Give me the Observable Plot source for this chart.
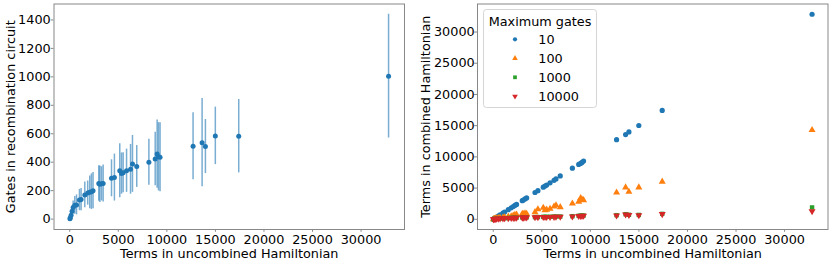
<!DOCTYPE html>
<html><head><meta charset="utf-8">
<script src="https://cdn.jsdelivr.net/npm/d3@7"></script>
<script src="https://cdn.jsdelivr.net/npm/@observablehq/plot@0.6"></script>
<style>
body{margin:0;background:#fff;}
#wrap{position:relative;width:831px;height:263px;display:flex;font-family:"DejaVu Sans",sans-serif;}
#legend{position:absolute;left:0;top:0;pointer-events:none;}
</style></head><body><div id="wrap"></div>
<script>
// ---- data ----
const terms = [20, 60, 140, 240, 350, 520, 700, 1000, 1170, 1550, 1850, 2060, 2230, 2400, 2990, 3100, 3270, 3440, 4300, 4600, 5150, 5330, 5500, 5850, 6260, 6460, 6900, 8150, 8800, 9000, 9140, 9300, 12700, 13630, 13970, 14990, 17400, 32830];
const gates = [3, 10, 27, 55, 82, 97, 100, 134, 137, 170, 183, 188, 193, 200, 250, 245, 248, 250, 287, 292, 340, 320, 326, 340, 350, 388, 370, 400, 423, 457, 438, 435, 512, 537, 510, 585, 583, 1005];
const gateErr = [4, 10, 22, 35, 45, 62, 70, 75, 78, 90, 85, 115, 125, 128, 125, 128, 120, 130, 130, 165, 190, 145, 140, 152, 175, 200, 147, 162, 188, 240, 240, 242, 235, 310, 190, 202, 258, 435];
const combined10 = [20, 58, 136, 235, 345, 515, 695, 990, 1160, 1540, 1840, 2050, 2220, 2390, 2980, 3090, 3260, 3430, 4290, 4590, 5140, 5320, 5490, 5840, 6250, 6470, 6950, 8190, 8790, 8950, 9110, 9320, 12760, 13570, 14000, 15030, 17450, 32850];
const combined100 = [15, 40, 80, 120, 160, 200, 240, 300, 330, 430, 500, 600, 720, 760, 900, 850, 960, 900, 1150, 1600, 1850, 1450, 1550, 1700, 2050, 2250, 1950, 2520, 2800, 3400, 3170, 3070, 4300, 5110, 4420, 5110, 6030, 14300];
const combined1000 = [10, 30, 55, 80, 100, 120, 140, 170, 180, 210, 230, 250, 260, 270, 300, 300, 310, 320, 350, 360, 390, 390, 400, 410, 430, 440, 450, 500, 560, 580, 590, 600, 660, 820, 720, 700, 870, 1900];
const combined10000 = [8, 25, 45, 70, 90, 110, 125, 150, 160, 190, 210, 225, 235, 245, 275, 275, 285, 295, 320, 330, 360, 360, 365, 380, 395, 405, 415, 460, 520, 540, 550, 560, 620, 780, 680, 660, 830, 1300];
const maxGates = ["10", "100", "1000", "10000"];
const xTicks = [0, 5000, 10000, 15000, 20000, 25000, 30000];
const gateTicks = [0, 200, 400, 600, 800, 1000, 1200, 1400];
const combinedTicks = [0, 5000, 10000, 15000, 20000, 25000, 30000];
const colors = ["#1f77b4", "#ff7f0e", "#2ca02c", "#d62728"];
const xLabel = "Terms in uncombined Hamiltonian";
const leftYLabel = "Gates in recombination circuit";
const rightYLabel = "Terms in combined Hamiltonian";
const legendTitle = "Maximum gates";

// ---- helpers ----
const sqrt3 = Math.sqrt(3);
const triangleDown = {
  draw(ctx, size) {
    const y = -Math.sqrt(size / (sqrt3 * 3));
    ctx.moveTo(0, -y * 2);
    ctx.lineTo(-sqrt3 * y, y);
    ctx.lineTo(sqrt3 * y, y);
    ctx.closePath();
  }
};
const symbols = [d3.symbolCircle, d3.symbolTriangle, d3.symbolSquare, triangleDown];
const markerR = [2.6, 2.6, 2.5, 2.6];
const pad = ([a, b]) => { const p = 0.05 * (b - a); return [a - p, b + p]; };

const leftData = terms.map((x, i) => ({x, y: gates[i], lo: gates[i] - gateErr[i], hi: gates[i] + gateErr[i]}));
const series = [combined10, combined100, combined1000, combined10000];
const xDomain = pad(d3.extent(terms));
const yLeftDomain = pad([d3.min(leftData, d => d.lo), d3.max(leftData, d => d.hi)]);
const yRightDomain = pad([d3.min(series.flat()), d3.max(series.flat())]);

const FS = 12.8;
const fmt = d3.format("d");
const font = {fontFamily: "DejaVu Sans", fontSize: FS + "px", color: "#000", background: "#fff", overflow: "visible"};
const axisCommon = {tickSize: 2.8, tickFormat: fmt, stroke: "#888", fill: "#000", fontSize: FS, labelAnchor: "center", labelArrow: false};

const left = Plot.plot({
  width: 415, height: 263,
  marginLeft: 53.5, marginRight: 11, marginTop: 3.5, marginBottom: 34,
  style: font,
  x: {domain: xDomain},
  y: {domain: yLeftDomain},
  marks: [
    Plot.axisX({...axisCommon, tickPadding: 2.8, ticks: xTicks, label: xLabel, labelOffset: 28.5}),
    Plot.axisY({...axisCommon, tickPadding: 0.5, ticks: gateTicks, label: leftYLabel, labelOffset: 48}),
    Plot.ruleX(leftData, {x: "x", y1: "lo", y2: "hi", stroke: colors[0], strokeOpacity: 0.6, strokeWidth: 1.5}),
    Plot.dot(leftData, {x: "x", y: "y", r: 2.5, fill: colors[0]}),
    Plot.frame({stroke: "#888"})
  ]
});

const rightMarks = series.map((vals, s) =>
  Plot.dot(terms.map((x, i) => ({x, y: vals[i]})), {x: "x", y: "y", r: markerR[s], fill: colors[s], symbol: symbols[s]})
);
const right = Plot.plot({
  width: 416, height: 263,
  marginLeft: 62, marginRight: 3.5, marginTop: 3.5, marginBottom: 34,
  style: font,
  x: {domain: xDomain},
  y: {domain: yRightDomain},
  marks: [
    Plot.axisX({...axisCommon, tickPadding: 2.8, ticks: xTicks, label: xLabel, labelOffset: 28.5}),
    Plot.axisY({...axisCommon, tickPadding: 0, ticks: combinedTicks, label: rightYLabel, labelOffset: 56.5}),
    ...rightMarks,
    Plot.frame({stroke: "#888"})
  ]
});

const wrap = document.getElementById("wrap");
wrap.appendChild(left);
wrap.appendChild(right);

// ---- legend (inside right axes, upper left) ----
const svg = d3.select(wrap).append("svg").attr("id", "legend").attr("width", 831).attr("height", 263)
  .style("font-family", "DejaVu Sans").style("font-size", FS + "px");
const g = svg.append("g").attr("transform", "translate(483.5,9.5)");
g.append("rect").attr("width", 113).attr("height", 98).attr("rx", 3)
  .attr("fill", "rgba(255,255,255,0.8)").attr("stroke", "#d5d5d5");
g.append("text").attr("x", 56.5).attr("y", 16.4).attr("text-anchor", "middle").text(legendTitle);
maxGates.forEach((lab, i) => {
  const cy = 29.8 + i * 19;
  const size = Math.PI * 2.1 * 2.1;
  g.append("path").attr("transform", `translate(31.5,${cy})`)
    .attr("d", d3.symbol(symbols[i], size)()).attr("fill", colors[i]);
  g.append("text").attr("x", 54.8).attr("y", cy + 4.7).text(lab);
});
</script></body></html>
